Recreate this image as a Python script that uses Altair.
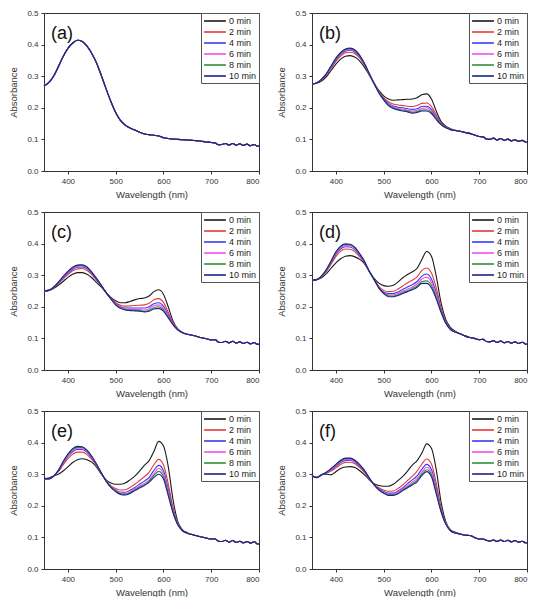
import altair as alt
import pandas as pd

SERIES = ["0 min", "2 min", "4 min", "6 min", "8 min", "10 min"]
COLORS = ["#1a1a1a", "#e8383a", "#3a3af5", "#f04ef0", "#2f8f3a", "#1f1f8a"]
PANELS = ["(a)", "(b)", "(c)", "(d)", "(e)", "(f)"]
X_TICKS = [400, 500, 600, 700, 800]
Y_TICKS = [0.0, 0.1, 0.2, 0.3, 0.4, 0.5]

# wavelengths (nm)
W_MAIN = [350, 360, 370, 380, 390, 400, 410, 420, 430, 440, 450, 460, 470, 480, 490, 500,
          510, 520, 530, 540, 550, 560, 570, 580, 590, 600, 610, 620, 630, 640, 650]
W_TAIL = [660, 670, 680, 690, 700, 708, 715, 722, 730, 737, 745, 752, 760, 767, 775, 782, 790, 797, 800]

# ---- panel (a): all times coincide
A_ALL = [0.270, 0.280, 0.300, 0.330, 0.362, 0.388, 0.405, 0.414, 0.410, 0.395, 0.372, 0.342, 0.302, 0.260, 0.220, 0.185,
         0.160, 0.145, 0.136, 0.130, 0.123, 0.117, 0.115, 0.113, 0.111, 0.105, 0.103, 0.101, 0.100, 0.099, 0.098]
A_TAIL = [0.097, 0.096, 0.094, 0.092, 0.090, 0.089, 0.083, 0.084, 0.087, 0.082, 0.087, 0.082, 0.086, 0.081, 0.085, 0.080, 0.084, 0.078, 0.079]

# ---- panel (b)
B0 = [0.275, 0.278, 0.285, 0.298, 0.318, 0.338, 0.354, 0.363, 0.365, 0.360, 0.348, 0.328, 0.303, 0.278, 0.255, 0.238,
      0.228, 0.224, 0.225, 0.226, 0.227, 0.228, 0.232, 0.241, 0.244, 0.228, 0.190, 0.157, 0.142, 0.134, 0.129]
B2 = [0.275, 0.279, 0.288, 0.303, 0.325, 0.347, 0.364, 0.374, 0.376, 0.371, 0.357, 0.334, 0.306, 0.278, 0.252, 0.232,
      0.219, 0.212, 0.209, 0.207, 0.205, 0.204, 0.207, 0.214, 0.215, 0.204, 0.178, 0.152, 0.140, 0.133, 0.128]
B4 = [0.275, 0.279, 0.289, 0.305, 0.328, 0.351, 0.369, 0.379, 0.382, 0.376, 0.361, 0.337, 0.307, 0.277, 0.250, 0.229,
      0.214, 0.206, 0.202, 0.200, 0.197, 0.195, 0.197, 0.204, 0.205, 0.195, 0.172, 0.150, 0.139, 0.132, 0.128]
B6 = [0.275, 0.279, 0.290, 0.306, 0.330, 0.353, 0.371, 0.382, 0.385, 0.379, 0.363, 0.338, 0.307, 0.276, 0.249, 0.227,
      0.211, 0.203, 0.198, 0.196, 0.193, 0.190, 0.192, 0.198, 0.200, 0.190, 0.169, 0.149, 0.138, 0.132, 0.128]
B8 = [0.275, 0.279, 0.290, 0.307, 0.331, 0.355, 0.373, 0.384, 0.387, 0.381, 0.364, 0.339, 0.307, 0.276, 0.248, 0.226,
      0.209, 0.200, 0.195, 0.193, 0.190, 0.186, 0.188, 0.193, 0.194, 0.186, 0.166, 0.148, 0.138, 0.131, 0.128]
B10 = [0.275, 0.279, 0.291, 0.308, 0.333, 0.357, 0.375, 0.386, 0.389, 0.383, 0.366, 0.340, 0.308, 0.276, 0.247, 0.225,
       0.207, 0.198, 0.193, 0.190, 0.187, 0.183, 0.185, 0.190, 0.190, 0.182, 0.163, 0.147, 0.137, 0.131, 0.128]
B_TAIL = [0.126, 0.122, 0.119, 0.114, 0.109, 0.108, 0.101, 0.100, 0.104, 0.098, 0.103, 0.097, 0.101, 0.095, 0.099, 0.094, 0.097, 0.092, 0.091]

# ---- panel (c)
C0 = [0.250, 0.252, 0.258, 0.268, 0.280, 0.293, 0.303, 0.308, 0.308, 0.303, 0.292, 0.277, 0.262, 0.245, 0.230, 0.219,
      0.213, 0.213, 0.217, 0.222, 0.226, 0.228, 0.234, 0.248, 0.254, 0.240, 0.200, 0.155, 0.130, 0.119, 0.113]
C2 = [0.250, 0.252, 0.260, 0.273, 0.288, 0.302, 0.314, 0.320, 0.321, 0.315, 0.302, 0.284, 0.265, 0.245, 0.228, 0.213,
      0.205, 0.202, 0.203, 0.204, 0.205, 0.206, 0.211, 0.222, 0.226, 0.214, 0.183, 0.150, 0.129, 0.118, 0.113]
C4 = [0.250, 0.252, 0.261, 0.275, 0.291, 0.306, 0.319, 0.325, 0.326, 0.320, 0.305, 0.286, 0.266, 0.245, 0.227, 0.210,
      0.200, 0.196, 0.196, 0.196, 0.196, 0.196, 0.200, 0.210, 0.213, 0.202, 0.176, 0.147, 0.128, 0.118, 0.113]
C6 = [0.250, 0.252, 0.261, 0.276, 0.293, 0.309, 0.322, 0.328, 0.329, 0.323, 0.307, 0.288, 0.267, 0.245, 0.226, 0.208,
      0.198, 0.193, 0.192, 0.192, 0.191, 0.190, 0.194, 0.203, 0.206, 0.196, 0.172, 0.146, 0.128, 0.118, 0.113]
C8 = [0.250, 0.252, 0.262, 0.277, 0.295, 0.311, 0.324, 0.331, 0.331, 0.325, 0.309, 0.289, 0.268, 0.245, 0.225, 0.207,
      0.196, 0.191, 0.190, 0.189, 0.188, 0.186, 0.189, 0.197, 0.200, 0.190, 0.168, 0.144, 0.127, 0.118, 0.113]
C10 = [0.250, 0.252, 0.262, 0.278, 0.296, 0.312, 0.325, 0.332, 0.333, 0.326, 0.310, 0.290, 0.268, 0.245, 0.225, 0.206,
       0.195, 0.190, 0.188, 0.187, 0.186, 0.184, 0.186, 0.193, 0.195, 0.186, 0.165, 0.143, 0.127, 0.118, 0.113]
C_TAIL = [0.110, 0.106, 0.102, 0.099, 0.095, 0.096, 0.088, 0.087, 0.091, 0.086, 0.091, 0.085, 0.089, 0.084, 0.088, 0.083, 0.087, 0.081, 0.081]

# ---- panel (d)
D0 = [0.284, 0.286, 0.292, 0.305, 0.322, 0.339, 0.352, 0.360, 0.362, 0.358, 0.350, 0.336, 0.312, 0.290, 0.275, 0.267,
      0.265, 0.268, 0.278, 0.292, 0.302, 0.311, 0.322, 0.350, 0.375, 0.360, 0.297, 0.213, 0.160, 0.134, 0.123]
D2 = [0.284, 0.286, 0.295, 0.312, 0.335, 0.359, 0.376, 0.383, 0.382, 0.374, 0.358, 0.340, 0.312, 0.288, 0.265, 0.252,
      0.248, 0.249, 0.256, 0.266, 0.276, 0.284, 0.295, 0.315, 0.323, 0.307, 0.260, 0.198, 0.154, 0.131, 0.121]
D4 = [0.284, 0.286, 0.296, 0.314, 0.340, 0.366, 0.383, 0.390, 0.389, 0.380, 0.362, 0.341, 0.312, 0.287, 0.262, 0.247,
      0.242, 0.242, 0.247, 0.255, 0.263, 0.270, 0.280, 0.297, 0.304, 0.288, 0.245, 0.192, 0.152, 0.130, 0.121]
D6 = [0.284, 0.286, 0.297, 0.316, 0.342, 0.370, 0.387, 0.394, 0.393, 0.384, 0.365, 0.342, 0.312, 0.286, 0.261, 0.245,
      0.238, 0.238, 0.242, 0.249, 0.256, 0.263, 0.272, 0.288, 0.293, 0.278, 0.238, 0.188, 0.150, 0.129, 0.120]
D8 = [0.284, 0.286, 0.297, 0.317, 0.344, 0.372, 0.390, 0.397, 0.396, 0.386, 0.367, 0.343, 0.312, 0.286, 0.260, 0.243,
      0.235, 0.234, 0.238, 0.245, 0.251, 0.258, 0.266, 0.280, 0.282, 0.268, 0.230, 0.185, 0.149, 0.128, 0.120]
D10 = [0.284, 0.286, 0.298, 0.318, 0.345, 0.374, 0.392, 0.399, 0.398, 0.388, 0.368, 0.343, 0.312, 0.286, 0.259, 0.242,
       0.232, 0.232, 0.236, 0.242, 0.248, 0.254, 0.262, 0.274, 0.274, 0.260, 0.225, 0.183, 0.148, 0.128, 0.120]
D_TAIL = [0.115, 0.108, 0.103, 0.100, 0.096, 0.097, 0.090, 0.089, 0.093, 0.087, 0.092, 0.086, 0.090, 0.085, 0.089, 0.084, 0.088, 0.082, 0.081]

# ---- panel (e)
E0 = [0.286, 0.288, 0.295, 0.300, 0.310, 0.323, 0.337, 0.346, 0.349, 0.346, 0.338, 0.322, 0.300, 0.282, 0.272, 0.268,
      0.268, 0.272, 0.282, 0.294, 0.310, 0.328, 0.343, 0.372, 0.404, 0.390, 0.325, 0.220, 0.150, 0.124, 0.115]
E2 = [0.286, 0.286, 0.294, 0.308, 0.329, 0.349, 0.363, 0.370, 0.370, 0.362, 0.347, 0.327, 0.302, 0.280, 0.264, 0.255,
      0.250, 0.251, 0.258, 0.268, 0.280, 0.292, 0.306, 0.330, 0.347, 0.330, 0.270, 0.196, 0.145, 0.122, 0.114]
E4 = [0.286, 0.286, 0.293, 0.310, 0.334, 0.356, 0.371, 0.378, 0.378, 0.369, 0.351, 0.329, 0.303, 0.279, 0.261, 0.250,
      0.243, 0.243, 0.249, 0.258, 0.268, 0.278, 0.290, 0.312, 0.328, 0.312, 0.254, 0.188, 0.143, 0.122, 0.113]
E6 = [0.286, 0.285, 0.293, 0.311, 0.336, 0.359, 0.375, 0.382, 0.382, 0.372, 0.354, 0.330, 0.303, 0.279, 0.260, 0.248,
      0.240, 0.239, 0.244, 0.253, 0.262, 0.271, 0.282, 0.302, 0.318, 0.302, 0.246, 0.184, 0.142, 0.121, 0.113]
E8 = [0.286, 0.285, 0.293, 0.312, 0.338, 0.362, 0.378, 0.385, 0.385, 0.374, 0.356, 0.331, 0.304, 0.278, 0.259, 0.246,
      0.238, 0.236, 0.241, 0.250, 0.259, 0.267, 0.278, 0.296, 0.309, 0.293, 0.239, 0.181, 0.141, 0.121, 0.113]
E10 = [0.286, 0.285, 0.293, 0.312, 0.340, 0.364, 0.381, 0.388, 0.387, 0.376, 0.357, 0.332, 0.304, 0.278, 0.258, 0.245,
       0.236, 0.234, 0.239, 0.248, 0.256, 0.264, 0.274, 0.290, 0.300, 0.285, 0.232, 0.178, 0.140, 0.121, 0.113]
E_TAIL = [0.109, 0.105, 0.101, 0.098, 0.095, 0.095, 0.088, 0.087, 0.091, 0.085, 0.090, 0.084, 0.088, 0.083, 0.087, 0.082, 0.086, 0.079, 0.079]

# ---- panel (f)
F0 = [0.295, 0.290, 0.298, 0.300, 0.298, 0.308, 0.318, 0.323, 0.324, 0.321, 0.311, 0.298, 0.282, 0.270, 0.264, 0.262,
      0.262, 0.268, 0.280, 0.293, 0.310, 0.329, 0.343, 0.367, 0.396, 0.382, 0.315, 0.213, 0.150, 0.124, 0.116]
F2 = [0.295, 0.290, 0.298, 0.303, 0.310, 0.320, 0.331, 0.337, 0.338, 0.333, 0.321, 0.305, 0.285, 0.268, 0.257, 0.250,
      0.246, 0.247, 0.255, 0.266, 0.280, 0.294, 0.310, 0.332, 0.348, 0.332, 0.272, 0.195, 0.146, 0.122, 0.115]
F4 = [0.295, 0.290, 0.298, 0.304, 0.313, 0.325, 0.337, 0.343, 0.344, 0.338, 0.325, 0.308, 0.286, 0.267, 0.254, 0.245,
      0.240, 0.240, 0.247, 0.257, 0.270, 0.282, 0.295, 0.316, 0.331, 0.315, 0.257, 0.189, 0.144, 0.122, 0.114]
F6 = [0.295, 0.289, 0.298, 0.305, 0.315, 0.328, 0.340, 0.346, 0.347, 0.341, 0.327, 0.310, 0.287, 0.267, 0.252, 0.243,
      0.237, 0.237, 0.243, 0.253, 0.264, 0.275, 0.287, 0.307, 0.322, 0.306, 0.250, 0.186, 0.143, 0.121, 0.114]
F8 = [0.295, 0.289, 0.298, 0.306, 0.317, 0.330, 0.342, 0.349, 0.350, 0.343, 0.329, 0.311, 0.288, 0.266, 0.251, 0.241,
      0.235, 0.235, 0.240, 0.250, 0.260, 0.270, 0.281, 0.301, 0.314, 0.298, 0.244, 0.184, 0.143, 0.121, 0.114]
F10 = [0.295, 0.289, 0.298, 0.306, 0.318, 0.331, 0.344, 0.351, 0.351, 0.344, 0.330, 0.312, 0.288, 0.266, 0.250, 0.240,
       0.233, 0.233, 0.238, 0.248, 0.257, 0.266, 0.276, 0.296, 0.308, 0.292, 0.238, 0.182, 0.142, 0.121, 0.114]
F_TAIL = [0.111, 0.107, 0.106, 0.100, 0.095, 0.095, 0.091, 0.088, 0.092, 0.087, 0.092, 0.087, 0.091, 0.086, 0.090, 0.085, 0.088, 0.083, 0.083]

PANEL_DATA = [
    ([A_ALL, A_ALL, A_ALL, A_ALL, A_ALL, A_ALL], A_TAIL),
    ([B0, B2, B4, B6, B8, B10], B_TAIL),
    ([C0, C2, C4, C6, C8, C10], C_TAIL),
    ([D0, D2, D4, D6, D8, D10], D_TAIL),
    ([E0, E2, E4, E6, E8, E10], E_TAIL),
    ([F0, F2, F4, F6, F8, F10], F_TAIL),
]

FONT = "Liberation Sans"
PW, PH = 215, 158


def panel_frame(series_lists, tail):
    rows = []
    wl = W_MAIN + W_TAIL
    for k, (name, vals) in enumerate(zip(SERIES, series_lists)):
        full = vals + tail
        assert len(full) == len(wl), (name, len(vals))
        for w, v in zip(wl, full):
            rows.append({"wl": w, "abs": v, "t": name, "k": k})
    return pd.DataFrame(rows)


def panel(series_lists, tail, label):
    df = panel_frame(series_lists, tail)
    lines = alt.Chart(df).mark_line(strokeWidth=1.1, interpolate="monotone").encode(
        x=alt.X("wl:Q", scale=alt.Scale(domain=[350, 800], nice=False, zero=False),
                axis=alt.Axis(values=X_TICKS, title="Wavelength (nm)")),
        y=alt.Y("abs:Q", scale=alt.Scale(domain=[0, 0.5], nice=False),
                axis=alt.Axis(values=Y_TICKS, format=".1f", title="Absorbance")),
        color=alt.Color("t:N", scale=alt.Scale(domain=SERIES, range=COLORS),
                        legend=alt.Legend(title=None, orient="top-right", offset=0, padding=2,
                                          strokeColor="#555", fillColor="white",
                                          symbolType="M-2.3,0H2.3", symbolSize=90,
                                          symbolOffset=6,
                                          symbolStrokeWidth=1.6, symbolFillColor="transparent",
                                          labelFontSize=9, labelFont=FONT, labelColor="#222",
                                          rowPadding=0, labelOffset=8)),
        order=alt.Order("k:Q"),
        detail="t:N",
    )
    txt = alt.Chart(pd.DataFrame({"label": [label]})).mark_text(
        align="left", baseline="alphabetic", fontSize=18, font=FONT, color="#111"
    ).encode(x=alt.value(7), y=alt.value(26), text="label:N")
    return alt.layer(lines, txt).properties(width=PW, height=PH)


charts = [panel(s, t, lab) for (s, t), lab in zip(PANEL_DATA, PANELS)]

rows = [
    alt.hconcat(charts[0], charts[1], spacing=14).resolve_scale(color="independent"),
    alt.hconcat(charts[2], charts[3], spacing=14).resolve_scale(color="independent"),
    alt.hconcat(charts[4], charts[5], spacing=14).resolve_scale(color="independent"),
]

chart = alt.vconcat(*rows, spacing=8).resolve_scale(color="independent").properties(
    padding=0
).configure_view(
    stroke="#333", strokeWidth=1
).configure_axis(
    grid=False, labelFont=FONT, titleFont=FONT, labelFontSize=8, titleFontSize=9.5,
    titleFontWeight="normal", labelColor="#333", titleColor="#333",
    domainColor="#333", tickColor="#333", tickSize=3, labelPadding=3
).configure_axisY(titlePadding=8).configure_axisX(titlePadding=4)

chart.save("out.html", embed_options={"renderer": "svg", "actions": False})
